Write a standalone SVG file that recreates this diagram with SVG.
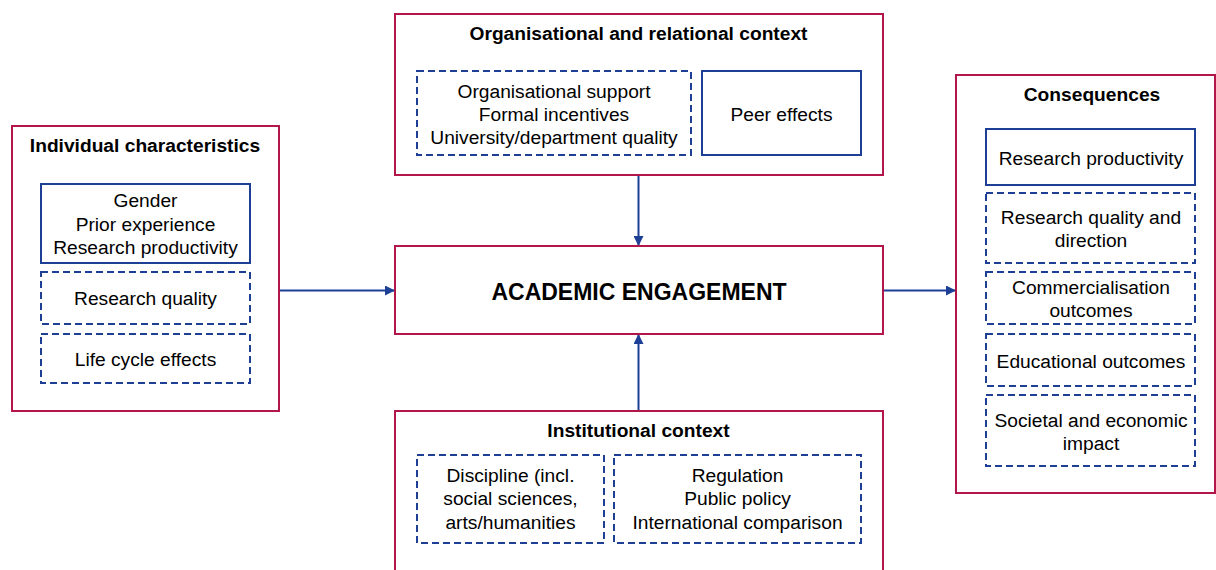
<svg xmlns="http://www.w3.org/2000/svg" width="1216" height="570" viewBox="0 0 1216 570">
<style>
.outer{fill:#fff;stroke:#B3174A;stroke-width:2}
.solid{fill:#fff;stroke:#1E3F96;stroke-width:2}
.dash{fill:#fff;stroke:#1E3F96;stroke-width:2;stroke-dasharray:7 4}
.t{font-family:"Liberation Sans",Arial,sans-serif;font-size:19.2px;fill:#000;text-anchor:middle}
.h{font-family:"Liberation Sans",Arial,sans-serif;font-size:19.2px;font-weight:bold;fill:#000;text-anchor:middle}
.big{font-family:"Liberation Sans",Arial,sans-serif;font-size:23px;font-weight:bold;fill:#000;text-anchor:middle}
.c{stroke:#1E3F96;stroke-width:2;fill:none}
</style>
<defs>
<marker id="arr" viewBox="0 0 10 10" refX="10" refY="5" markerWidth="10" markerHeight="10" markerUnits="userSpaceOnUse" orient="auto">
<path d="M0,0 L10,5 L0,10 z" fill="#1E3F96"/>
</marker>
</defs>
<rect width="1216" height="570" fill="#fff"/>
<g id="connectors">
<line class="c" x1="280" y1="290.5" x2="395" y2="290.5" marker-end="url(#arr)"/>
<line class="c" x1="883" y1="290.5" x2="956" y2="290.5" marker-end="url(#arr)"/>
<line class="c" x1="638.5" y1="175" x2="638.5" y2="246" marker-end="url(#arr)"/>
<line class="c" x1="638.5" y1="411" x2="638.5" y2="334" marker-end="url(#arr)"/>
</g>
<g id="individual">
<rect class="outer" x="12" y="126" width="267" height="285"/>
<text class="h" x="145" y="152">Individual characteristics</text>
<rect class="solid" x="41" y="184" width="209" height="79"/>
<text class="t" x="145.5" y="207">Gender</text>
<text class="t" x="145.5" y="230.5">Prior experience</text>
<text class="t" x="145.5" y="253.5">Research productivity</text>
<rect class="dash" x="41" y="272" width="209" height="52"/>
<text class="t" x="145.5" y="305">Research quality</text>
<rect class="dash" x="41" y="334" width="209" height="49"/>
<text class="t" x="145.5" y="366">Life cycle effects</text>
</g>
<g id="organisational">
<rect class="outer" x="395" y="14" width="488" height="161"/>
<text class="h" x="638.5" y="39.5">Organisational and relational context</text>
<rect class="dash" x="417" y="71" width="274" height="84"/>
<text class="t" x="554" y="97.5">Organisational support</text>
<text class="t" x="554" y="120.5">Formal incentives</text>
<text class="t" x="554" y="143.5">University/department quality</text>
<rect class="solid" x="702" y="71" width="159" height="84"/>
<text class="t" x="781.5" y="120.5">Peer effects</text>
</g>
<g id="engagement">
<rect class="outer" x="395" y="246" width="488" height="88"/>
<text class="big" x="639" y="299.5">ACADEMIC ENGAGEMENT</text>
</g>
<g id="institutional">
<rect class="outer" x="395" y="411" width="488" height="170"/>
<text class="h" x="638.5" y="436.5">Institutional context</text>
<rect class="dash" x="417" y="455" width="187" height="88"/>
<text class="t" x="510.5" y="482">Discipline (incl.</text>
<text class="t" x="510.5" y="505">social sciences,</text>
<text class="t" x="510.5" y="528.5">arts/humanities</text>
<rect class="dash" x="614" y="455" width="247" height="88"/>
<text class="t" x="737.5" y="482">Regulation</text>
<text class="t" x="737.5" y="505">Public policy</text>
<text class="t" x="737.5" y="528.5">International comparison</text>
</g>
<g id="consequences">
<rect class="outer" x="956" y="75" width="259" height="418"/>
<text class="h" x="1092" y="101">Consequences</text>
<rect class="solid" x="986" y="129" width="209" height="56"/>
<text class="t" x="1091" y="165">Research productivity</text>
<rect class="dash" x="986" y="193" width="209" height="70"/>
<text class="t" x="1091" y="224">Research quality and</text>
<text class="t" x="1091" y="247">direction</text>
<rect class="dash" x="986" y="272" width="209" height="52"/>
<text class="t" x="1091" y="293.5">Commercialisation</text>
<text class="t" x="1091" y="316.5">outcomes</text>
<rect class="dash" x="986" y="334" width="209" height="52"/>
<text class="t" x="1091" y="367.5">Educational outcomes</text>
<rect class="dash" x="986" y="395" width="209" height="71"/>
<text class="t" x="1091" y="427">Societal and economic</text>
<text class="t" x="1091" y="450">impact</text>
</g>
</svg>
